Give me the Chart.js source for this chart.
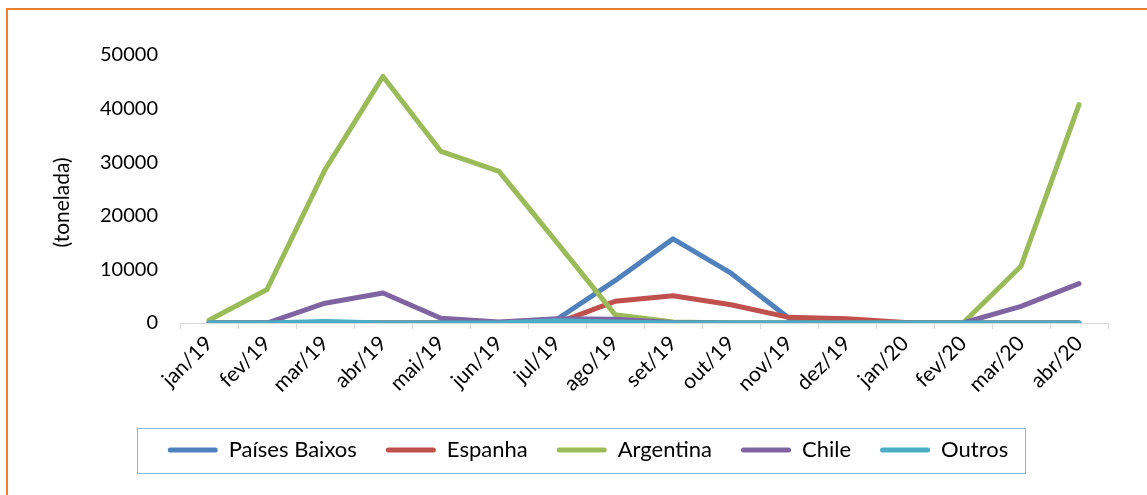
<!DOCTYPE html>
<html>
<head>
<meta charset="utf-8">
<script src="https://cdn.jsdelivr.net/npm/chart.js@4/dist/chart.umd.min.js"></script>
<style>
  body { margin: 0; background: #fff; }
  #wrap { position: relative; width: 1147px; height: 495px; overflow: hidden; }
  #frame { position: absolute; left: 6px; top: 8px; width: 1200px; height: 600px; border: 2px solid #ED7D31; }
  #lineChart { position: absolute; left: 0; top: 0; }
</style>
</head>
<body>
<div id="wrap">
  <div id="frame"></div>
  <canvas id="lineChart" width="1147" height="495"></canvas>
</div>
<script>
// months shown on the x axis
const labels = ["jan/19", "fev/19", "mar/19", "abr/19", "mai/19", "jun/19", "jul/19", "ago/19",
                "set/19", "out/19", "nov/19", "dez/19", "jan/20", "fev/20", "mar/20", "abr/20"];

// values in tonelada
const paisesBaixos = [0, 0, 0, 0, 0, 0, 700, 7900, 15700, 9300, 900, 0, 0, 0, 0, 0];
const espanha      = [0, 0, 0, 0, 0, 0, 0, 4050, 5100, 3400, 1050, 800, 100, 0, 0, 0];
const argentina    = [500, 6250, 28600, 46000, 32000, 28300, 15000, 1550, 200, 0, 0, 0, 0, 0, 10600, 40750];
const chile        = [0, 0, 3700, 5600, 900, 200, 800, 700, 100, 0, 0, 0, 0, 0, 3100, 7350];
const outros       = [0, 0, 300, 0, 0, 0, 400, 200, 0, 0, 0, 0, 0, 0, 0, 0];

const yTicks = [0, 10000, 20000, 30000, 40000, 50000];

const font = "Lato, 'Open Sans', sans-serif";

function serie(label, data, color, order) {
    return {
        label: label,
        data: data,
        borderColor: color,
        backgroundColor: color,
        borderWidth: 5,
        pointRadius: 0,
        tension: 0,
        borderCapStyle: 'round',
        borderJoinStyle: 'round',
        order: order
    };
}

// box around the legend, like the one in the spreadsheet
const legendBox = {
    id: 'legendBox',
    afterLayout(chart) {
        // legend sits a bit right of the canvas centre in the original
        chart.legend.left += 34;
        chart.legend.right += 34;
    },
    afterDraw(chart) {
        const hb = chart.legend.legendHitBoxes;
        if (!hb || !hb.length) return;
        const left = Math.min(...hb.map(h => h.left)) - 31;
        const right = Math.max(...hb.map(h => h.left + h.width)) + 17;
        const mid = hb[0].top + hb[0].height / 2;
        const ctx = chart.ctx;
        ctx.save();
        ctx.strokeStyle = '#8EB4E3';
        ctx.lineWidth = 1;
        ctx.strokeRect(Math.round(left) + 0.5, Math.round(mid - 22) + 0.5, Math.round(right - left), 45);
        ctx.restore();
    }
};

new Chart(document.getElementById("lineChart"), {
    type: 'line',
    data: {
        labels: labels,
        datasets: [
            serie("Países Baixos", paisesBaixos, '#4F81BD', 4),
            serie("Espanha", espanha, '#C0504D', 3),
            serie("Argentina", argentina, '#9BBB59', 2),
            serie("Chile", chile, '#8064A2', 1),
            serie("Outros", outros, '#4BACC6', 0)
        ]
    },
    options: {
        responsive: false,
        animation: false,
        layout: { padding: { top: 55, right: 39, bottom: 24, left: 0 } },
        plugins: {
            tooltip: { enabled: false },
            legend: {
                position: 'bottom',
                labels: {
                    font: { family: font, size: 22 },
                    color: '#000',
                    boxWidth: 50,
                    boxHeight: 5,
                    padding: 29,
                    useBorderRadius: true,
                    borderRadius: 2.5,
                    sort: (a, b) => a.datasetIndex - b.datasetIndex,
                    generateLabels(chart) {
                        const items = Chart.defaults.plugins.legend.labels.generateLabels(chart);
                        items.forEach(i => { i.lineWidth = 0; i.fillStyle = i.strokeStyle; });
                        return items;
                    }
                }
            }
        },
        scales: {
            x: {
                offset: true,
                grid: { display: true, offset: true, drawOnChartArea: false, drawTicks: true, tickLength: 6, color: '#D9D9D9' },
                border: { display: true, color: '#D9D9D9', width: 1 },
                ticks: {
                    color: '#000',
                    font: { family: font, size: 21 },
                    minRotation: 45,
                    maxRotation: 45,
                    autoSkip: false,
                    padding: 2
                },
                afterFit(scale) { scale.height = 87; }
            },
            y: {
                min: 0,
                max: 50000,
                afterBuildTicks(scale) { scale.ticks = yTicks.map(v => ({ value: v })); },
                grid: { display: false, drawTicks: false },
                border: { display: false },
                ticks: {
                    color: '#000',
                    font: { family: font, size: 20 },
                    padding: 22,
                    callback: v => String(v)
                },
                title: {
                    display: true,
                    text: '(tonelada)     ',
                    color: '#000',
                    font: { family: font, size: 21 },
                    padding: { top: 50, bottom: 0 }
                },
                afterFit(scale) { scale.width = 180; }
            }
        }
    },
    plugins: [legendBox]
});
</script>
</body>
</html>
